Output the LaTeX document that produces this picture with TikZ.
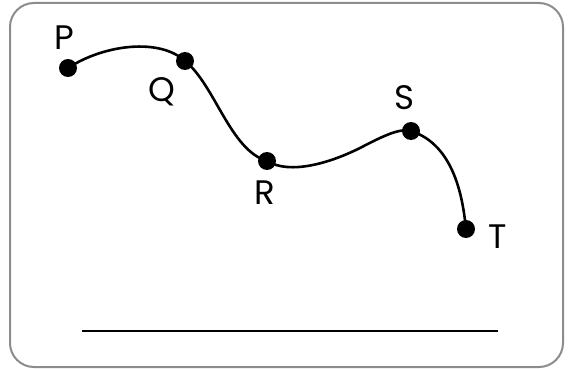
\documentclass[tikz,border=0pt]{standalone}
\usepackage{fontspec}
\setmainfont{Poppins}
\begin{document}
\begin{tikzpicture}[x=1pt,y=-1pt,
  dot/.style={circle,fill=black,inner sep=0pt,minimum size=18pt},
  lbl/.style={inner sep=0pt,font=\fontsize{34}{34}\selectfont},
  curve/.style={line width=2.6pt,black}]
\useasboundingbox (0,0) rectangle (571,369);
\draw[line width=2pt,gray!90,rounded corners=24pt] (10,3) rectangle (563,367);
\node[dot] (P) at (68,68) {};
\node[dot] (Q) at (185,61) {};
\node[dot] (R) at (267,161) {};
\node[dot] (S) at (411,131) {};
\node[dot] (T) at (466,229) {};
\draw[curve] (P.center) .. controls (105,44) and (160,38) .. (Q.center)
  .. controls (215,85) and (230,150) .. (R.center)
  .. controls (290,175) and (330,163) .. (360,148)
  .. controls (385,135) and (400,128) .. (S.center)
  .. controls (455,145) and (463,200) .. (T.center);
\node[lbl] (lP) at (64,38) {P};
\node[lbl] (lQ) at (162,92) {Q};
\node[lbl] (lR) at (265,193) {R};
\node[lbl] (lS) at (404,98) {S};
\node[lbl] (lT) at (498,237) {T};
\coordinate (L1) at (82,331);
\coordinate (L2) at (498,331);
\draw[line width=2.8pt] (L1) -- (L2);
\end{tikzpicture}
\end{document}
